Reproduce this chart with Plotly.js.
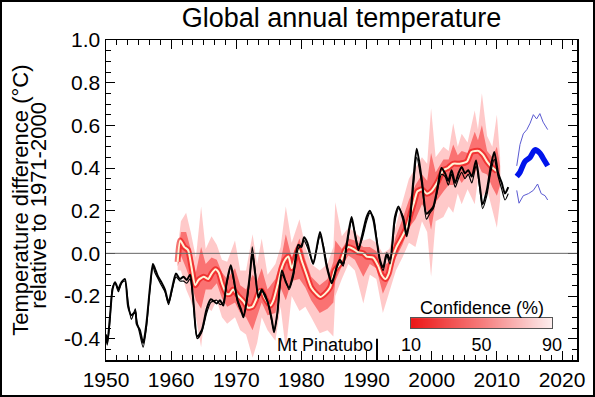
<!DOCTYPE html>
<html>
<head>
<meta charset="utf-8">
<script src="https://cdn.plot.ly/plotly-3.0.1.min.js"></script>
<style>
  html, body { margin: 0; padding: 0; background: #fff; }
  #wrap { position: relative; width: 595px; height: 397px; }
  #chart { width: 595px; height: 397px; }
  #frame { position: absolute; left: 0; top: 0; width: 595px; height: 397px; box-sizing: border-box; border: 2px solid #000; pointer-events: none; }
</style>
</head>
<body>
<div id="wrap"><div id="chart"></div><div id="frame"></div></div>
<script>
// ---- Observations (smoothed annual global temperature, three overlapping records) ----
const obsYears = [1950.0,1950.2,1950.6,1951.0,1951.4,1951.9,1952.15,1952.4,1952.9,1953.4,1953.9,1954.5,1954.7,1955.2,1955.7,1956.2,1956.75,1957.2,1957.5,1958.0,1958.5,1959.05,1959.6,1960.1,1960.75,1961.35,1961.9,1962.4,1962.9,1963.4,1964.0,1964.7,1965.45,1966.1,1967.0,1967.5,1968.0,1968.5,1969.15,1969.55,1970.2,1970.7,1971.1,1971.6,1972.1,1972.45,1972.9,1973.4,1973.9,1974.4,1974.9,1975.45,1975.8,1976.3,1977.0,1977.6,1978.1,1978.75,1979.5,1980.0,1980.4,1980.9,1981.8,1982.85,1983.35,1983.9,1984.65,1985.4,1985.9,1986.4,1986.95,1987.7,1988.2,1988.75,1989.25,1990.0,1990.5,1991.05,1991.55,1992.05,1992.55,1993.1,1993.6,1994.35,1994.9,1995.65,1996.15,1996.7,1997.2,1997.7,1998.5,1999.2,1999.75,2000.25,2000.8,2001.5,2002.05,2002.55,2003.05,2003.6,2004.1,2004.6,2005.1,2005.6,2006.15,2006.8,2007.4,2007.8,2008.45,2009.05,2009.6,2010.2,2010.75,2011.25,2011.75];
const obsA = [-0.38,-0.42,-0.30,-0.17,-0.135,-0.17,-0.15,-0.135,-0.12,-0.25,-0.29,-0.275,-0.33,-0.36,-0.42,-0.33,-0.16,-0.05,-0.07,-0.11,-0.135,-0.17,-0.23,-0.17,-0.095,-0.12,-0.11,-0.125,-0.10,-0.22,-0.39,-0.36,-0.26,-0.215,-0.235,-0.22,-0.245,-0.14,-0.056,-0.11,-0.22,-0.26,-0.30,-0.22,-0.095,0.0,-0.095,-0.205,-0.17,-0.20,-0.235,-0.31,-0.37,-0.28,-0.08,-0.135,-0.16,-0.095,0.04,0.03,0.075,0.05,-0.05,0.10,0.03,-0.065,-0.14,-0.065,-0.03,-0.05,0.045,0.17,0.09,0.015,0.075,0.17,0.20,0.155,0.06,-0.03,-0.065,0.0,-0.03,0.17,0.22,0.155,0.08,0.18,0.35,0.49,0.34,0.185,0.20,0.22,0.295,0.40,0.375,0.34,0.39,0.33,0.375,0.405,0.375,0.39,0.36,0.435,0.31,0.23,0.295,0.405,0.475,0.375,0.33,0.28,0.31];
const obsB = [-0.40,-0.43,-0.32,-0.16,-0.14,-0.18,-0.16,-0.14,-0.13,-0.23,-0.31,-0.26,-0.31,-0.38,-0.44,-0.35,-0.17,-0.06,-0.09,-0.12,-0.15,-0.18,-0.24,-0.18,-0.11,-0.13,-0.13,-0.14,-0.12,-0.23,-0.40,-0.37,-0.28,-0.23,-0.22,-0.24,-0.23,-0.15,-0.07,-0.12,-0.23,-0.27,-0.29,-0.23,-0.11,0.03,-0.08,-0.21,-0.18,-0.19,-0.24,-0.32,-0.36,-0.29,-0.10,-0.13,-0.17,-0.11,0.02,0.04,0.06,0.03,-0.04,0.08,0.04,-0.05,-0.13,-0.07,-0.04,-0.06,0.03,0.15,0.10,0.03,0.06,0.15,0.19,0.17,0.07,-0.04,-0.08,-0.01,-0.05,0.15,0.21,0.17,0.10,0.16,0.32,0.45,0.32,0.16,0.19,0.21,0.28,0.37,0.36,0.32,0.37,0.31,0.35,0.38,0.35,0.37,0.33,0.41,0.30,0.21,0.27,0.38,0.44,0.36,0.30,0.25,0.28];

// ---- Hindcast mean (white line) ----
const hcYears = [1961.0,1961.4,1962.0,1962.6,1963.1,1963.7,1964.2,1965.0,1965.7,1966.2,1966.8,1967.3,1967.8,1968.5,1969.0,1969.5,1970.3,1971.1,1971.8,1972.5,1973.0,1973.5,1973.9,1974.4,1975.2,1975.7,1976.4,1977.0,1977.5,1978.0,1978.5,1979.0,1979.5,1980.0,1980.8,1981.5,1982.3,1982.9,1983.6,1984.4,1985.1,1985.9,1986.7,1987.2,1988.0,1988.7,1989.5,1990.0,1991.0,1991.8,1992.3,1992.9,1993.4,1993.9,1994.6,1995.4,1996.2,1996.8,1997.3,1997.8,1998.5,1999.2,1999.9,2000.8,2001.8,2002.5,2003.3,2004.3,2005.4,2006.1,2007.2,2007.9,2008.5,2009.2,2010.0];
const hcMean = [-0.04,0.06,0.03,0.015,-0.06,-0.15,-0.125,-0.11,-0.12,-0.095,-0.075,-0.09,-0.14,-0.19,-0.19,-0.17,-0.20,-0.225,-0.255,-0.25,-0.22,-0.18,-0.175,-0.21,-0.245,-0.22,-0.14,-0.065,-0.03,-0.015,-0.07,-0.03,0.02,-0.03,-0.10,-0.16,-0.19,-0.205,-0.19,-0.16,-0.08,-0.05,0.015,0.03,0.02,0.005,0.0,-0.015,-0.02,-0.06,-0.10,-0.12,-0.095,-0.03,0.03,0.075,0.125,0.19,0.24,0.29,0.30,0.28,0.29,0.33,0.39,0.40,0.42,0.42,0.43,0.475,0.48,0.46,0.43,0.405,0.385];

// ---- Hindcast confidence ranges ----
const bandYears = [1961.0,1961.5,1962.3,1963.0,1963.8,1964.6,1965.3,1966.2,1967.0,1967.8,1968.6,1969.8,1970.6,1971.5,1972.5,1973.2,1973.9,1974.8,1976.0,1976.8,1977.6,1978.5,1979.7,1980.6,1981.5,1982.8,1984.0,1984.9,1985.2,1986.2,1987.2,1988.2,1989.5,1990.5,1991.5,1992.5,1993.5,1994.5,1995.5,1996.5,1997.5,1998.5,1999.3,1999.9,2000.6,2001.8,2002.6,2003.3,2004.0,2004.6,2005.5,2006.6,2007.1,2007.7,2008.5,2009.3,2010.0,2010.5];
const band90Hi = [0.02,0.15,0.19,0.10,-0.02,0.22,0.02,0.08,0.04,-0.03,-0.04,0.06,-0.08,-0.08,0.09,-0.05,0.07,-0.10,-0.05,0.03,0.22,0.05,0.16,0.03,-0.05,-0.08,-0.05,0.03,0.24,0.08,0.12,0.10,0.06,0.07,0.05,0.0,0.02,0.13,0.25,0.35,0.40,0.45,0.42,0.68,0.45,0.50,0.48,0.61,0.50,0.56,0.52,0.67,0.58,0.75,0.55,0.50,0.65,0.45];
const band90Lo = [-0.08,-0.08,-0.17,-0.22,-0.30,-0.44,-0.25,-0.27,-0.22,-0.30,-0.33,-0.30,-0.36,-0.38,-0.49,-0.42,-0.30,-0.36,-0.41,-0.25,-0.455,-0.20,-0.27,-0.25,-0.30,-0.375,-0.36,-0.39,-0.20,-0.12,-0.05,-0.08,-0.235,-0.10,-0.12,-0.28,-0.18,-0.08,-0.02,0.05,0.03,0.15,0.10,-0.11,0.15,0.17,0.22,0.19,0.28,0.23,0.30,0.23,0.35,0.26,0.30,0.20,0.12,0.25];
const band50Hi = [-0.01,0.10,0.10,0.02,-0.09,0.03,-0.05,-0.02,-0.03,-0.09,-0.12,-0.07,-0.15,-0.17,-0.10,-0.13,-0.07,-0.17,-0.12,-0.04,0.09,-0.02,0.07,-0.03,-0.11,-0.15,-0.12,-0.04,0.06,0.02,0.07,0.06,0.03,0.03,0.01,-0.06,-0.04,0.08,0.16,0.25,0.32,0.37,0.34,0.47,0.38,0.44,0.44,0.51,0.46,0.48,0.47,0.57,0.53,0.60,0.48,0.45,0.50,0.41];
const band50Lo = [-0.06,-0.01,-0.07,-0.13,-0.22,-0.26,-0.17,-0.17,-0.14,-0.21,-0.25,-0.23,-0.28,-0.30,-0.36,-0.29,-0.23,-0.29,-0.28,-0.16,-0.22,-0.13,-0.12,-0.16,-0.22,-0.28,-0.26,-0.23,-0.13,-0.06,-0.01,-0.03,-0.11,-0.05,-0.07,-0.19,-0.12,-0.02,0.04,0.12,0.16,0.23,0.20,0.11,0.24,0.29,0.32,0.32,0.36,0.33,0.37,0.37,0.42,0.38,0.37,0.31,0.27,0.32];

// ---- Forecast ----
const fcYears = [2013.05,2013.55,2014.3,2015.1,2015.85,2016.6,2017.1,2017.8];
const fcMean = [0.36,0.38,0.43,0.45,0.485,0.47,0.445,0.41];
const fcUpYears = [2013.05,2013.55,2014.05,2014.6,2015.1,2015.6,2016.1,2016.6,2017.1,2017.8];
const fcUp = [0.41,0.51,0.56,0.58,0.61,0.65,0.63,0.655,0.615,0.58];
const fcLoYears = [2013.05,2013.4,2014.05,2014.85,2015.6,2016.25,2016.8,2017.4,2017.8];
const fcLo = [0.295,0.235,0.27,0.28,0.295,0.325,0.28,0.27,0.25];

// ---- Confidence colour key ----
const confLevels = [10,20,30,40,50,60,70,80,90];
const confTicks = [10,50,90];

// ---- Axis ticks and annotations ----
const xTickVals = [1950,1960,1970,1980,1990,2000,2010,2020];
const xTickText = ['1950','1960','1970','1980','1990','2000','2010','2020'];
const yTickVals = [-0.4,-0.2,0.0,0.2,0.4,0.6,0.8,1.0];
const yTickText = ['-0.4','-0.2','0.0','0.2','0.4','0.6','0.8','1.0'];
const pinatuboYear = 1991.6;
const pinatuboLabel = 'Mt Pinatubo';

const FONT = 'Liberation Sans, Arial, Helvetica, sans-serif';

const traces = [
  // 90% band
  {x: bandYears, y: band90Hi, type: 'scatter', mode: 'lines', line: {width: 0, color: 'rgba(0,0,0,0)'}, hoverinfo: 'skip'},
  {x: bandYears, y: band90Lo, type: 'scatter', mode: 'lines', line: {width: 0, color: 'rgba(0,0,0,0)'}, fill: 'tonexty', fillcolor: 'rgba(255,30,30,0.24)', hoverinfo: 'skip'},
  // 50% band
  {x: bandYears, y: band50Hi, type: 'scatter', mode: 'lines', line: {width: 0, color: 'rgba(0,0,0,0)'}, hoverinfo: 'skip'},
  {x: bandYears, y: band50Lo, type: 'scatter', mode: 'lines', line: {width: 0, color: 'rgba(0,0,0,0)'}, fill: 'tonexty', fillcolor: 'rgba(245,10,10,0.46)', hoverinfo: 'skip'},
  // core (10%) around the hindcast mean
  {x: hcYears, y: hcMean, type: 'scatter', mode: 'lines', line: {width: 6, color: 'rgba(235,0,0,0.55)', shape: 'spline', smoothing: 0.6}, hoverinfo: 'skip'},
  // hindcast mean
  {x: hcYears, y: hcMean, type: 'scatter', mode: 'lines', line: {width: 2, color: 'rgb(255,244,215)', shape: 'spline', smoothing: 0.6}},
  // observations
  {x: obsYears, y: obsB, type: 'scatter', mode: 'lines', line: {width: 1.2, color: '#000', shape: 'spline', smoothing: 0.7}},
  {x: obsYears, y: obsA, type: 'scatter', mode: 'lines', line: {width: 2, color: '#000', shape: 'spline', smoothing: 0.7}},
  // forecast
  {x: fcUpYears, y: fcUp, type: 'scatter', mode: 'lines', line: {width: 1, color: 'rgb(90,90,210)'}},
  {x: fcLoYears, y: fcLo, type: 'scatter', mode: 'lines', line: {width: 1, color: 'rgb(90,90,210)'}},
  {x: fcYears, y: fcMean, type: 'scatter', mode: 'lines', line: {width: 5.5, color: 'rgb(0,20,235)', shape: 'spline', smoothing: 0.8}},
  // colour key
  {x: confLevels, y: [0], z: [confLevels], type: 'heatmap', xaxis: 'x2', yaxis: 'y2', zsmooth: 'best', showscale: false,
   zmin: 10, zmax: 90,
   colorscale: [[0, 'rgb(236,24,24)'], [0.5, 'rgb(246,125,125)'], [1, 'rgb(253,240,240)']], hoverinfo: 'skip'}
];

const layout = {
  width: 595, height: 397,
  margin: {l: 106, r: 18, t: 40, b: 37},
  paper_bgcolor: '#fff', plot_bgcolor: '#fff',
  showlegend: false,
  font: {family: FONT, color: '#000', size: 21},
  title: {text: 'Global annual temperature', font: {family: FONT, size: 27, color: '#000'},
          x: 0.5, xref: 'paper', xanchor: 'center', y: 0.955, yref: 'container', yanchor: 'middle'},
  xaxis: {
    range: [1950, 2022.3], showgrid: false, zeroline: false,
    tickmode: 'array', tickvals: xTickVals, ticktext: xTickText,
    ticks: 'inside', ticklen: 9, tickwidth: 1, tickcolor: '#000',
    showline: true, linecolor: '#000', linewidth: 1.5, mirror: 'ticks',
    minor: {tickmode: 'linear', tick0: 1950, dtick: 10/6, ticks: 'inside', ticklen: 5, tickwidth: 1, tickcolor: '#000'},
    tickfont: {family: FONT, size: 21, color: '#000'}
  },
  yaxis: {
    range: [-0.5, 1.0], showgrid: false, zeroline: false,
    tickmode: 'array', tickvals: yTickVals, ticktext: yTickText,
    ticks: 'inside', ticklen: 9, tickwidth: 1, tickcolor: '#000',
    showline: true, linecolor: '#000', linewidth: 1.5, mirror: 'ticks',
    minor: {tickmode: 'linear', tick0: 0, dtick: 0.05, ticks: 'inside', ticklen: 5, tickwidth: 1, tickcolor: '#000'},
    tickfont: {family: FONT, size: 21, color: '#000'}
  },
  xaxis2: {
    domain: [0.6476, 0.947], anchor: 'y2', range: [10, 90],
    tickmode: 'array', tickvals: confTicks, ticktext: confTicks.map(String),
    ticks: '', showgrid: false, zeroline: false,
    showline: true, mirror: true, linecolor: '#555', linewidth: 1,
    tickfont: {family: FONT, size: 18, color: '#000'}
  },
  yaxis2: {
    domain: [0.1, 0.131], anchor: 'x2', range: [-0.5, 0.5],
    showticklabels: false, ticks: '', showgrid: false, zeroline: false,
    showline: true, mirror: true, linecolor: '#555', linewidth: 1
  },
  shapes: [
    {type: 'line', xref: 'paper', yref: 'y', x0: 0, x1: 1, y0: 0, y1: 0, line: {color: '#666', width: 1}, layer: 'above'},
    {type: 'line', xref: 'x', yref: 'y', x0: pinatuboYear, x1: pinatuboYear, y0: -0.40, y1: -0.5, line: {color: '#000', width: 2}}
  ],
  annotations: [
    {text: 'Temperature difference (°C)', xref: 'paper', yref: 'paper', x: -0.183, y: 0.5, xanchor: 'center', yanchor: 'middle',
     textangle: -90, showarrow: false, font: {family: FONT, size: 22, color: '#000'}},
    {text: 'relative to 1971-2000', xref: 'paper', yref: 'paper', x: -0.145, y: 0.484, xanchor: 'center', yanchor: 'middle',
     textangle: -90, showarrow: false, font: {family: FONT, size: 22, color: '#000'}},
    {text: pinatuboLabel, xref: 'x', yref: 'y', x: pinatuboYear, y: -0.43, xanchor: 'right', yanchor: 'middle', xshift: -2,
     showarrow: false, font: {family: FONT, size: 18, color: '#000'}},
    {text: 'Confidence (%)', xref: 'paper', yref: 'paper', x: 0.798, y: 0.1625, xanchor: 'center', yanchor: 'middle',
     showarrow: false, font: {family: FONT, size: 18, color: '#000'}}
  ]
};

Plotly.newPlot('chart', traces, layout, {staticPlot: true, displayModeBar: false});
</script>
</body>
</html>
